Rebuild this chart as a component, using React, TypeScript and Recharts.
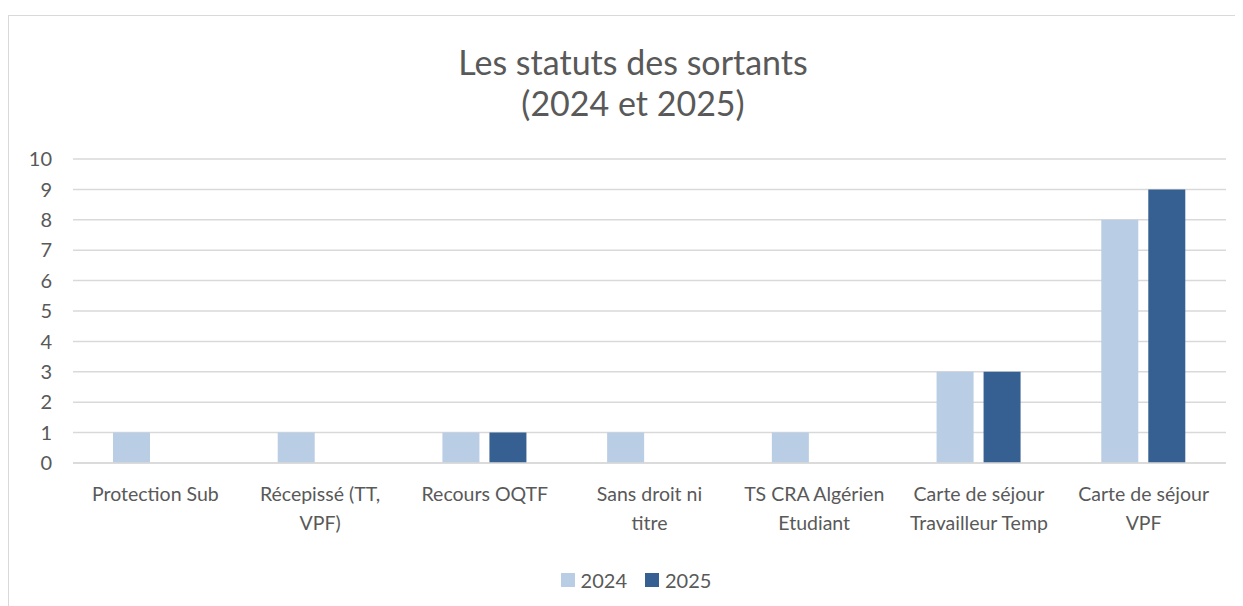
import { Bar, BarChart, CartesianGrid, XAxis, YAxis } from "recharts";

const categories = [
  "Protection Sub",
  "Récepissé (TT,\nVPF)",
  "Recours OQTF",
  "Sans droit ni\ntitre",
  "TS CRA Algérien\nEtudiant",
  "Carte de séjour\nTravailleur Temp",
  "Carte de séjour\nVPF",
];
const values2024 = [1, 1, 1, 1, 1, 3, 8];
const values2025 = [0, 0, 1, 0, 0, 3, 9];
const yTicks = [0, 1, 2, 3, 4, 5, 6, 7, 8, 9, 10];
const seriesNames = ["2024", "2025"];

const COLORS = ["#b9cde5", "#366092"];
const TEXT = "#595959";
const GRID = "#d9d9d9";
const FONT = "Lato, 'Open Sans', sans-serif";

const data = categories.map((name, i) => ({
  name,
  y2024: values2024[i],
  y2025: values2025[i],
}));

function CategoryTick(props: any) {
  const { x, y, payload } = props;
  const lines = String(payload.value).split("\n");
  return (
    <text
      x={x}
      y={y}
      textAnchor="middle"
      fill={TEXT}
      fontSize={19.5}
      fontFamily={FONT}
    >
      {lines.map((line, i) => (
        <tspan key={i} x={x} dy={i === 0 ? 30 : 29}>
          {line}
        </tspan>
      ))}
    </text>
  );
}

export default function App() {
  return (
    <div style={{ paddingTop: 7 }}>
      <div
        style={{
          position: "relative",
          width: 1240,
          height: 600,
          border: `1px solid ${GRID}`,
          background: "#fff",
          fontFamily: FONT,
        }}
      >
        <div
          style={{
            position: "absolute",
            top: 25,
            left: 0,
            width: 1248,
            textAlign: "center",
            color: TEXT,
            fontSize: 34,
            lineHeight: "41px",
          }}
        >
          Les statuts des sortants
          <br />
          (2024 et 2025)
        </div>
        <BarChart
          width={1240}
          height={600}
          data={data}
          margin={{ top: 143, right: 23, bottom: 0, left: 0 }}
          barGap={10}
          barSize={37}
        >
          <CartesianGrid
            vertical={false}
            stroke={GRID}
            strokeWidth={1.5}
          />
          <XAxis
            dataKey="name"
            height={153}
            tickLine={false}
            axisLine={{ stroke: GRID, strokeWidth: 1.5 }}
            interval={0}
            tick={<CategoryTick />}
          />
          <YAxis
            width={64}
            domain={[0, 10]}
            ticks={yTicks}
            interval={0}
            tickLine={false}
            axisLine={false}
            tickMargin={15}
            tick={{ fill: TEXT, fontSize: 20, fontFamily: FONT }}
          />
          <Bar
            dataKey="y2024"
            name={seriesNames[0]}
            fill={COLORS[0]}
            isAnimationActive={false}
          />
          <Bar
            dataKey="y2025"
            name={seriesNames[1]}
            fill={COLORS[1]}
            isAnimationActive={false}
          />
        </BarChart>
        <div
          style={{
            position: "absolute",
            top: 552,
            left: 0,
            width: 1254,
            display: "flex",
            justifyContent: "center",
            alignItems: "center",
            color: TEXT,
            fontSize: 20,
          }}
        >
          {seriesNames.map((s, i) => (
            <div
              key={s}
              style={{
                display: "flex",
                alignItems: "center",
                marginRight: i === 0 ? 18 : 0,
              }}
            >
              <span
                style={{
                  display: "inline-block",
                  width: 14,
                  height: 14,
                  background: COLORS[i],
                  marginRight: 6,
                }}
              />
              <span>{s}</span>
            </div>
          ))}
        </div>
      </div>
    </div>
  );
}
